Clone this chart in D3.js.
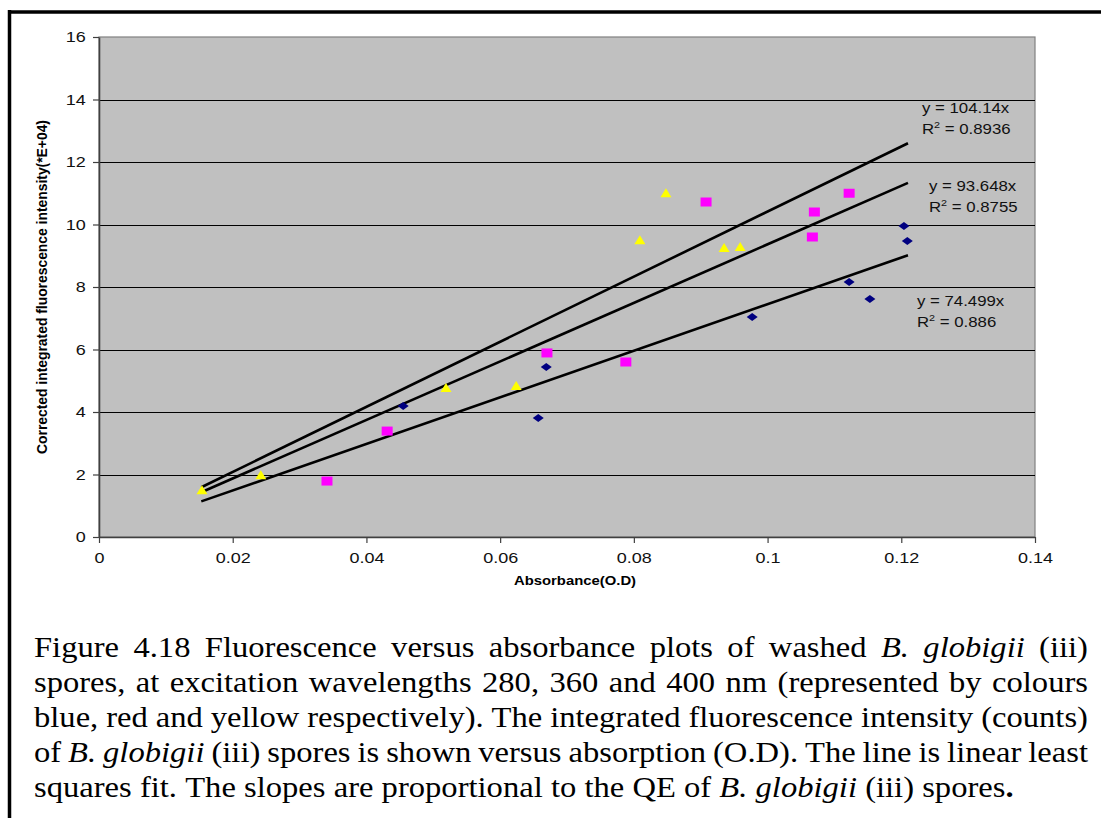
<!DOCTYPE html>
<html>
<head>
<meta charset="utf-8">
<script src="https://cdn.jsdelivr.net/npm/d3@7"></script>
<style>
  body { margin: 0; background: #fff; }
  svg { display: block; }
</style>
</head>
<body>
<svg id="chart" width="1101" height="818"></svg>
<script>
// data
const xTicks = [0, 0.02, 0.04, 0.06, 0.08, 0.1, 0.12, 0.14];
const yTicks = [0, 2, 4, 6, 8, 10, 12, 14, 16];

const blueX = [0.0455, 0.0657, 0.0669, 0.0977, 0.1122, 0.1153, 0.1204, 0.1209];
const blueY = [4.19, 3.81, 5.44, 7.04, 8.16, 7.62, 9.95, 9.47];
const redX = [0.0341, 0.0431, 0.0670, 0.0788, 0.0908, 0.1067, 0.1070, 0.1122];
const redY = [1.79, 3.39, 5.89, 5.60, 10.72, 9.60, 10.40, 11.00];
const yellowX = [0.0154, 0.0242, 0.0519, 0.0624, 0.0809, 0.0848, 0.0935, 0.0959];
const yellowY = [1.50, 1.98, 4.77, 4.83, 9.50, 11.00, 9.25, 9.28];

const slopes = [104.14, 93.648, 74.499];
const rSquared = ["0.8936", "0.8755", "0.886"];
const fitRange = [0.0153, 0.121];

const xTitle = "Absorbance(O.D)";
const yTitle = "Corrected integrated fluorescence intensity(*E+04)";

// caption lines, segments of [text, style]
const captionLines = [
  [["Figure 4.18 Fluorescence versus absorbance plots of washed ", ""], ["B. globigii", "i"], [" (iii)", ""]],
  [["spores, at excitation wavelengths 280, 360 and 400 nm (represented by colours", ""]],
  [["blue, red and yellow respectively). The integrated fluorescence intensity (counts)", ""]],
  [["of ", ""], ["B. globigii", "i"], [" (iii) spores is shown versus absorption (O.D). The line is linear least", ""]],
  [["squares fit. The slopes are proportional to the QE of ", ""], ["B. globigii", "i"], [" (iii) spores", ""], [".", "b"]]
];

const svg = d3.select("#chart");
const font = "Arial, 'Liberation Sans', sans-serif";
const stretch = 1.2; // chart text is drawn a little wide in the original

const plotL = 99, plotR = 1035, plotT = 37, plotB = 537;
const x = d3.scaleLinear().domain([0, 0.14]).range([plotL, plotR]);
const y = d3.scaleLinear().domain([0, 16]).range([plotB, plotT]);

// pick a Times-like face that is really installed
function hasFont(name) {
  const t = svg.append("text").attr("font-size", 40).text("Wilfmq iIl 0123 BgX");
  t.style("font-family", "monospace");
  const base = t.node().getComputedTextLength();
  t.style("font-family", `"${name}", monospace`);
  const w = t.node().getComputedTextLength();
  t.remove();
  return Math.abs(w - base) > 0.5;
}
const serifName = ["Liberation Serif", "Tinos", "Times New Roman", "Times", "Nimbus Roman", "FreeSerif", "Noto Serif"]
  .find(hasFont);
const capFont = serifName ? `"${serifName}", serif` : "serif";

// outer frame (top and left rule only)
svg.append("line").attr("x1", 8).attr("x2", 1101).attr("y1", 12).attr("y2", 12)
  .attr("stroke", "#000").attr("stroke-width", 3.5);
svg.append("line").attr("x1", 9.5).attr("x2", 9.5).attr("y1", 10).attr("y2", 818)
  .attr("stroke", "#000").attr("stroke-width", 3.5);

// plot area
svg.append("rect")
  .attr("x", plotL).attr("y", plotT)
  .attr("width", plotR - plotL).attr("height", plotB - plotT)
  .attr("fill", "#c0c0c0").attr("stroke", "#808080").attr("stroke-width", 1.2);

svg.append("g")
  .selectAll("line")
  .data(yTicks.filter(d => d > 0 && d < 16))
  .join("line")
  .attr("x1", plotL).attr("x2", plotR)
  .attr("y1", d => Math.round(y(d)) + 0.5).attr("y2", d => Math.round(y(d)) + 0.5)
  .attr("stroke", "#000").attr("stroke-width", 1);

// axes
const xAxis = svg.append("g")
  .attr("transform", `translate(0,${plotB})`)
  .call(d3.axisBottom(x).tickValues(xTicks).tickFormat(d => String(d)).tickSize(6).tickPadding(9).tickSizeOuter(0));
const yAxis = svg.append("g")
  .attr("transform", `translate(${plotL},0)`)
  .call(d3.axisLeft(y).tickValues(yTicks).tickSize(6).tickPadding(5).tickSizeOuter(0));

[xAxis, yAxis].forEach(ax => {
  ax.select(".domain").attr("stroke", "#404040").attr("stroke-width", 1.6);
  ax.selectAll(".tick line").attr("stroke", "#404040").attr("stroke-width", 1.2);
  ax.selectAll(".tick text")
    .attr("font-family", font).attr("font-size", 15).attr("fill", "#111")
    .attr("transform", `scale(${stretch},1)`);
});

// axis titles
svg.append("text")
  .attr("transform", `translate(575,585) scale(1.1,1)`)
  .attr("text-anchor", "middle")
  .attr("font-family", font).attr("font-size", 13.5).attr("font-weight", "bold")
  .text(xTitle);

svg.append("text")
  .attr("transform", "translate(47,287) rotate(-90)")
  .attr("text-anchor", "middle")
  .attr("font-family", font).attr("font-size", 14).attr("font-weight", "bold")
  .attr("textLength", 334).attr("lengthAdjust", "spacingAndGlyphs")
  .text(yTitle);

// trend lines through origin
const fitLine = d3.line().x(d => x(d[0])).y(d => y(d[1]));
svg.append("g")
  .selectAll("path")
  .data(slopes)
  .join("path")
  .attr("d", s => fitLine(fitRange.map(v => [v, s * v])))
  .attr("fill", "none").attr("stroke", "#000").attr("stroke-width", 2.6);

// markers
const pts = (xs, ys) => xs.map((v, i) => [v, ys[i]]);
const mk = svg.append("g");
mk.selectAll("path.blue")
  .data(pts(blueX, blueY))
  .join("path")
  .attr("class", "blue")
  .attr("transform", d => `translate(${x(d[0])},${y(d[1])})`)
  .attr("d", "M-5.5,0L0,-4L5.5,0L0,4Z")
  .attr("fill", "#000080");
mk.selectAll("rect.red")
  .data(pts(redX, redY))
  .join("rect")
  .attr("class", "red")
  .attr("x", d => x(d[0]) - 5.5).attr("y", d => y(d[1]) - 4.5)
  .attr("width", 11).attr("height", 9)
  .attr("fill", "#ff00ff");
mk.selectAll("path.yellow")
  .data(pts(yellowX, yellowY))
  .join("path")
  .attr("class", "yellow")
  .attr("transform", d => `translate(${x(d[0])},${y(d[1])})`)
  .attr("d", "M0,-5L5.5,4L-5.5,4Z")
  .attr("fill", "#ffff00");

// equation labels, offset from the end of each fit line
const labelOffsets = [[14, -30], [21, 8], [9, 51]];
slopes.forEach((s, i) => {
  const ex = x(fitRange[1]) + labelOffsets[i][0];
  const ey = y(s * fitRange[1]) + labelOffsets[i][1];
  const g = svg.append("g")
    .attr("transform", `translate(${ex},${ey}) scale(${stretch},1)`)
    .attr("font-family", font).attr("font-size", 14).attr("fill", "#111");
  g.append("text").text(`y = ${s}x`);
  const t = g.append("text").attr("y", 21);
  t.append("tspan").text("R");
  t.append("tspan").attr("font-size", 9).attr("dy", -6).text("2");
  t.append("tspan").attr("dy", 6).text(` = ${rSquared[i]}`);
});

// caption, justified like the original
const capSize = 29;
const capLeft = 34, capRight = 1088, capBase = 657, capStep = 35;

function toWords(segs) {
  const words = [];
  let cur = null;
  segs.forEach(([t, s]) => {
    t.split(" ").forEach((p, i) => {
      if (i > 0) cur = null;
      if (p === "") return;
      if (!cur) { cur = []; words.push(cur); }
      cur.push([p, s]);
    });
  });
  return words;
}

const cap = svg.append("g")
  .style("font-family", capFont).attr("font-size", capSize).attr("fill", "#000");

function addWord(parent, word, xx, yy) {
  const t = parent.append("text").attr("x", xx).attr("y", yy);
  word.forEach(([p, s]) => {
    t.append("tspan")
      .attr("font-style", s === "i" ? "italic" : null)
      .attr("font-weight", s === "b" ? "bold" : null)
      .text(p);
  });
  return t;
}

const probe = cap.append("g");
const spaceW = (() => {
  const t = probe.append("text").text("a a");
  const u = probe.append("text").text("aa");
  return t.node().getComputedTextLength() - u.node().getComputedTextLength();
})();
const lineWords = captionLines.map(toWords);
const widths = lineWords.map(ws => ws.map(w => addWord(probe, w, 0, 0).node().getComputedTextLength()));
probe.remove();

// last line is set at natural width, it ends near x=1051 in the original;
// keep the justified lines from getting cramped if the face is wide
const natural = (ww, gapK) => d3.sum(ww) + gapK * spaceW * (ww.length - 1);
let sx = (1051 - capLeft) / natural(widths[4], 1);
widths.slice(0, 4).forEach(ww => {
  sx = Math.min(sx, (capRight - capLeft) / natural(ww, 0.85));
});
const inner = cap.append("g").attr("transform", `translate(${capLeft},0) scale(${sx},1)`);
const fullW = (capRight - capLeft) / sx;

lineWords.forEach((ws, li) => {
  const ww = widths[li];
  const last = li === lineWords.length - 1;
  const gap = last ? spaceW : (fullW - d3.sum(ww)) / (ws.length - 1);
  let cx = 0;
  ws.forEach((w, wi) => {
    addWord(inner, w, cx, capBase + li * capStep);
    cx += ww[wi] + gap;
  });
});
</script>
</body>
</html>
